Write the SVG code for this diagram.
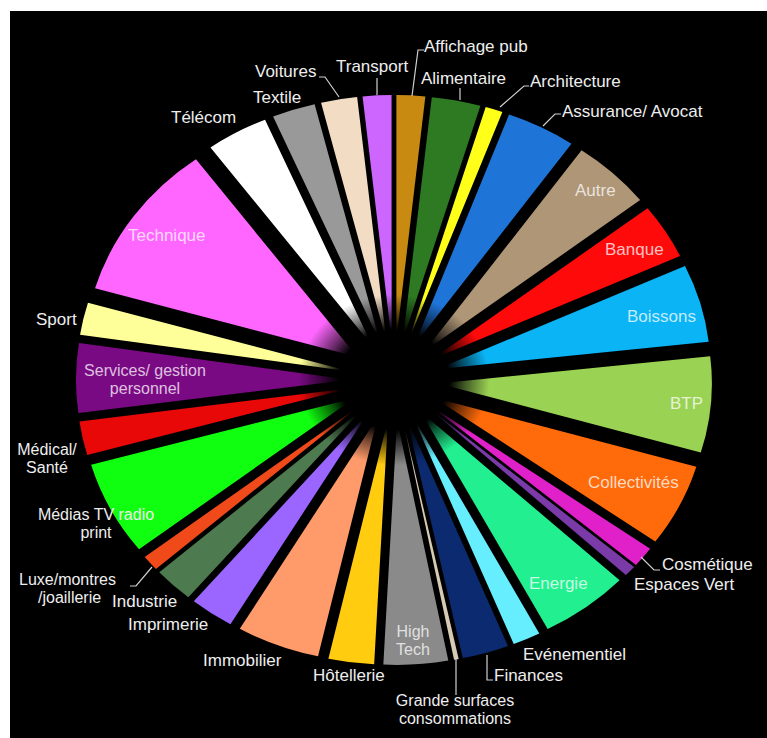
<svg xmlns="http://www.w3.org/2000/svg" width="767" height="738" viewBox="0 0 767 738">
<defs>
<radialGradient id="hole" cx="0" cy="0" r="95" gradientUnits="userSpaceOnUse">
<stop offset="0" stop-color="#000" stop-opacity="1"/>
<stop offset="0.52" stop-color="#000" stop-opacity="1"/>
<stop offset="0.66" stop-color="#000" stop-opacity="0.6"/>
<stop offset="0.9" stop-color="#000" stop-opacity="0"/>
</radialGradient>
</defs>
<style>
.s{fill:none;stroke-width:245}
.t{font-family:"Liberation Sans",Arial,sans-serif;font-size:17px;fill:#eeeeee}
.t2{font-size:16px}
.in{fill:#ffffff;fill-opacity:0.75}
.m{text-anchor:middle}
.ld{fill:none;stroke:#d0d0d0;stroke-width:1.2}
</style>
<rect x="0" y="0" width="767" height="738" fill="#ffffff"/>
<rect x="10" y="11" width="757" height="727" fill="#000000"/>

<g id="n-affichage"><circle class="s" r="122.5" pathLength="360" stroke="#c88a10" stroke-dasharray="6.1 400" transform="translate(394,380) scale(1.116,1) rotate(-86.95) translate(40) rotate(-3.05)"/><text class="t" x="424" y="52">Affichage pub</text></g>
<g id="n-alimentaire"><circle class="s" r="122.5" pathLength="360" stroke="#2d7a22" stroke-dasharray="10.4 400" transform="translate(394,380) scale(1.116,1) rotate(-78.7) translate(40) rotate(-5.2)"/><text class="t" x="421" y="84">Alimentaire</text></g>
<g id="n-architecture"><circle class="s" r="122.5" pathLength="360" stroke="#ffff1a" stroke-dasharray="3.7 400" transform="translate(394,380) scale(1.116,1) rotate(-71.65) translate(40) rotate(-1.85)"/><text class="t" x="530" y="87">Architecture</text></g>
<g id="n-assurance"><circle class="s" r="122.5" pathLength="360" stroke="#1f74d8" stroke-dasharray="14.8 400" transform="translate(394,380) scale(1.116,1) rotate(-62.4) translate(40) rotate(-7.4)"/><text class="t" x="562" y="117">Assurance/ Avocat</text></g>
<g id="n-autre"><circle class="s" r="122.5" pathLength="360" stroke="#ae9676" stroke-dasharray="17 400" transform="translate(394,380) scale(1.116,1) rotate(-46.5) translate(40) rotate(-8.5)"/><text class="t in" x="575" y="196">Autre</text></g>
<g id="n-banque"><circle class="s" r="122.5" pathLength="360" stroke="#ff0a0a" stroke-dasharray="13.1 400" transform="translate(394,380) scale(1.116,1) rotate(-31.45) translate(40) rotate(-6.55)"/><text class="t in" x="605" y="255">Banque</text></g>
<g id="n-boissons"><circle class="s" r="122.5" pathLength="360" stroke="#0ab4f5" stroke-dasharray="18.5 400" transform="translate(394,380) scale(1.116,1) rotate(-15.65) translate(40) rotate(-9.25)"/><text class="t in" x="627" y="322">Boissons</text></g>
<g id="n-btp"><circle class="s" r="122.5" pathLength="360" stroke="#9ad254" stroke-dasharray="22.8 400" transform="translate(394,380) scale(1.116,1) rotate(5) translate(40) rotate(-11.4)"/><text class="t in" x="670" y="409">BTP</text></g>
<g id="n-collectivites"><circle class="s" r="122.5" pathLength="360" stroke="#ff6a0a" stroke-dasharray="19.6 400" transform="translate(394,380) scale(1.116,1) rotate(26.2) translate(40) rotate(-9.8)"/><text class="t in" x="588" y="488">Collectivités</text></g>
<g id="n-cosmetique"><circle class="s" r="122.5" pathLength="360" stroke="#e020c8" stroke-dasharray="4.8 400" transform="translate(394,380) scale(1.116,1) rotate(38.4) translate(40) rotate(-2.4)"/><text class="t" x="662" y="570">Cosmétique</text></g>
<g id="n-espaces"><circle class="s" r="122.5" pathLength="360" stroke="#7a3aa8" stroke-dasharray="2.6 400" transform="translate(394,380) scale(1.116,1) rotate(42.1) translate(40) rotate(-1.3)"/><text class="t" x="634" y="590">Espaces Vert</text></g>
<g id="n-energie"><circle class="s" r="122.5" pathLength="360" stroke="#22f090" stroke-dasharray="19 400" transform="translate(394,380) scale(1.116,1) rotate(52.9) translate(40) rotate(-9.5)"/><text class="t in" x="529" y="589">Energie</text></g>
<g id="n-evenementiel"><circle class="s" r="122.5" pathLength="360" stroke="#66eeff" stroke-dasharray="5.9 400" transform="translate(394,380) scale(1.116,1) rotate(65.35) translate(40) rotate(-2.95)"/><text class="t" x="523" y="660">Evénementiel</text></g>
<g id="n-finances"><circle class="s" r="122.5" pathLength="360" stroke="#0c2a70" stroke-dasharray="9.9 400" transform="translate(394,380) scale(1.116,1) rotate(73.25) translate(40) rotate(-4.95)"/><text class="t" x="494" y="681">Finances</text></g>
<g id="n-grande"><circle class="s" r="122.5" pathLength="360" stroke="#d8cbb5" stroke-dasharray="1 400" transform="translate(394,380) scale(1.116,1) rotate(78.7) translate(40) rotate(-0.5)"/><text class="t t2 m" x="455" y="706">Grande surfaces</text><text class="t t2 m" x="455" y="724">consommations</text></g>
<g id="n-hightech"><circle class="s" r="122.5" pathLength="360" stroke="#8a8a8a" stroke-dasharray="13.7 400" transform="translate(394,380) scale(1.116,1) rotate(86.05) translate(40) rotate(-6.85)"/><text class="t t2 in m" x="413" y="637">High</text><text class="t t2 in m" x="413" y="655">Tech</text></g>
<g id="n-hotellerie"><circle class="s" r="122.5" pathLength="360" stroke="#ffcc10" stroke-dasharray="9.7 400" transform="translate(394,380) scale(1.116,1) rotate(97.75) translate(40) rotate(-4.85)"/><text class="t" x="313" y="681">Hôtellerie</text></g>
<g id="n-immobilier"><circle class="s" r="122.5" pathLength="360" stroke="#ff9a6a" stroke-dasharray="17.7 400" transform="translate(394,380) scale(1.116,1) rotate(111.45) translate(40) rotate(-8.85)"/><text class="t" x="203" y="666">Immobilier</text></g>
<g id="n-imprimerie"><circle class="s" r="122.5" pathLength="360" stroke="#9a66ff" stroke-dasharray="9.4 400" transform="translate(394,380) scale(1.116,1) rotate(125) translate(40) rotate(-4.7)"/><text class="t" x="128" y="630">Imprimerie</text></g>
<g id="n-industrie"><circle class="s" r="122.5" pathLength="360" stroke="#4e7a50" stroke-dasharray="8.5 400" transform="translate(394,380) scale(1.116,1) rotate(133.95) translate(40) rotate(-4.25)"/><text class="t" x="112" y="607">Industrie</text></g>
<g id="n-luxe"><circle class="s" r="122.5" pathLength="360" stroke="#f04a1a" stroke-dasharray="3.7 400" transform="translate(394,380) scale(1.116,1) rotate(140.05) translate(40) rotate(-1.85)"/><text class="t t2" x="19" y="585">Luxe/montres</text><text class="t t2" x="38" y="603">/joaillerie</text></g>
<g id="n-medias"><circle class="s" r="122.5" pathLength="360" stroke="#10ff10" stroke-dasharray="22.3 400" transform="translate(394,380) scale(1.116,1) rotate(153.05) translate(40) rotate(-11.15)"/><text class="t t2 m" x="96" y="520">Médias TV radio</text><text class="t t2 m" x="96" y="538">print</text></g>
<g id="n-medical"><circle class="s" r="122.5" pathLength="360" stroke="#e80808" stroke-dasharray="8 400" transform="translate(394,380) scale(1.116,1) rotate(168.2) translate(40) rotate(-4)"/><text class="t t2 m" x="47" y="455">Médical/</text><text class="t t2 m" x="47" y="473">Santé</text></g>
<g id="n-services"><circle class="s" r="122.5" pathLength="360" stroke="#7a0a84" stroke-dasharray="16.4 400" transform="translate(394,380) scale(1.116,1) rotate(180.4) translate(40) rotate(-8.2)"/><text class="t t2 in m" x="145" y="376">Services/ gestion</text><text class="t t2 in m" x="145" y="394">personnel</text></g>
<g id="n-sport"><circle class="s" r="122.5" pathLength="360" stroke="#ffff99" stroke-dasharray="7.7 400" transform="translate(394,380) scale(1.116,1) rotate(192.45) translate(40) rotate(-3.85)"/><text class="t" x="36" y="325">Sport</text></g>
<g id="n-technique"><circle class="s" r="122.5" pathLength="360" stroke="#ff66ff" stroke-dasharray="37.5 400" transform="translate(394,380) scale(1.116,1) rotate(215.05) translate(40) rotate(-18.75)"/><text class="t in" x="128" y="241">Technique</text></g>
<g id="n-telecom"><circle class="s" r="122.5" pathLength="360" stroke="#ffffff" stroke-dasharray="13.2 400" transform="translate(394,380) scale(1.116,1) rotate(240.4) translate(40) rotate(-6.6)"/><text class="t" x="171" y="123">Télécom</text></g>
<g id="n-textile"><circle class="s" r="122.5" pathLength="360" stroke="#999999" stroke-dasharray="9.2 400" transform="translate(394,380) scale(1.116,1) rotate(251.6) translate(40) rotate(-4.6)"/><text class="t" x="253" y="103">Textile</text></g>
<g id="n-voitures"><circle class="s" r="122.5" pathLength="360" stroke="#f2dcc4" stroke-dasharray="7.7 400" transform="translate(394,380) scale(1.116,1) rotate(260.05) translate(40) rotate(-3.85)"/><text class="t" x="255" y="77">Voitures</text></g>
<g id="n-transport"><circle class="s" r="122.5" pathLength="360" stroke="#cc66ff" stroke-dasharray="6.1 400" transform="translate(394,380) scale(1.116,1) rotate(266.95) translate(40) rotate(-3.05)"/><text class="t" x="336" y="72">Transport</text></g>

<circle r="95" fill="url(#hole)" transform="translate(394,380) scale(1.116,1)"/>

<g id="connectors">
<polyline class="ld" points="424,50 418,50 412,96"/>
<polyline class="ld" points="377,78 377,95"/>
<polyline class="ld" points="319,77 325,77 339,97"/>
<polyline class="ld" points="460,88 460,100"/>
<polyline class="ld" points="529,86 524,86 500,107"/>
<polyline class="ld" points="561,114 555,114 543,126"/>
<polyline class="ld" points="641,557 654,570 660,570"/>
<polyline class="ld" points="130,586 136,586 152,567"/>
<polyline class="ld" points="487,655 487,680 493,680"/>
<polyline class="ld" points="456,657 456,695"/>
</g>
</svg>
